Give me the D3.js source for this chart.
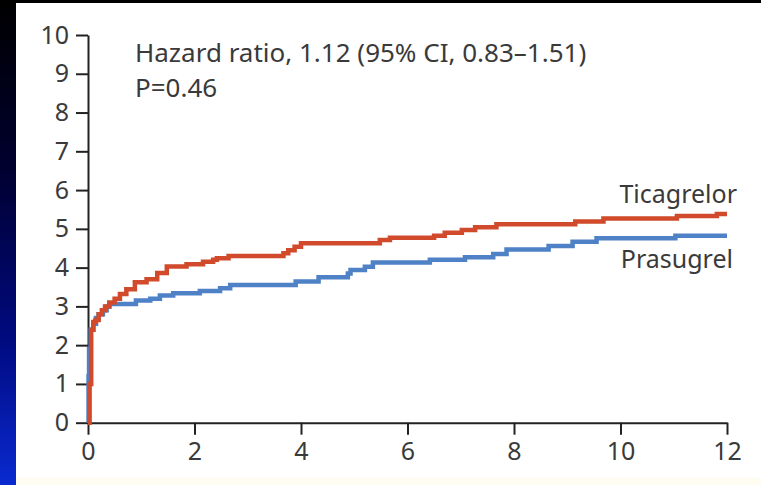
<!DOCTYPE html>
<html>
<head>
<meta charset="utf-8">
<script src="https://cdn.jsdelivr.net/npm/d3@7"></script>
<style>
  body { margin: 0; background: #000; }
  svg { display: block; }
  text { font-family: "Noto Sans", "DejaVu Sans", sans-serif; fill: #3a3a3a; }
</style>
</head>
<body>
<svg id="chart" width="761" height="485"></svg>
<script>
// Cumulative incidence (%), months 0-12.
var ticMonths = [0, 0.03, 0.06, 0.1, 0.14, 0.2, 0.26, 0.32, 0.4, 0.5, 0.6, 0.72, 0.88, 1.1, 1.3, 1.48,
  1.85, 2.16, 2.35, 2.42, 2.64, 3.67, 3.76, 3.88, 4.0, 5.48, 5.67, 6.5, 6.7, 7.02, 7.27, 7.67,
  9.15, 9.68, 11.06, 11.81, 12.0];
var ticValues = [0, 1.0, 2.4, 2.6, 2.65, 2.8, 2.9, 3.0, 3.1, 3.2, 3.32, 3.44, 3.62, 3.7, 3.86, 4.03,
  4.09, 4.15, 4.2, 4.24, 4.3, 4.37, 4.45, 4.54, 4.63, 4.71, 4.77, 4.82, 4.9, 4.97, 5.04, 5.12,
  5.19, 5.27, 5.33, 5.38, 5.38];

var praMonths = [0, 0.01, 0.02, 0.05, 0.1, 0.15, 0.2, 0.28, 0.35, 0.4, 0.9, 1.17, 1.35, 1.6, 2.1,
  2.48, 2.67, 3.9, 4.33, 4.88, 4.93, 5.2, 5.35, 6.42, 7.08, 7.61, 7.86, 8.65, 9.1, 9.55, 11.03, 12.0];
var praValues = [0, 1.2, 1.9, 2.4, 2.55, 2.7, 2.8, 2.9, 3.0, 3.06, 3.15, 3.2, 3.28, 3.34, 3.4,
  3.47, 3.55, 3.64, 3.75, 3.85, 3.94, 4.02, 4.13, 4.2, 4.27, 4.35, 4.47, 4.56, 4.67, 4.76, 4.82, 4.82];

var xTicks = [0, 2, 4, 6, 8, 10, 12];
var yTicks = [0, 1, 2, 3, 4, 5, 6, 7, 8, 9, 10];
var statLines = ["Hazard ratio, 1.12 (95% CI, 0.83\u20131.51)", "P=0.46"];

var svg = d3.select("#chart");

// Slide background: dark gradient strip on the left, white panel.
var defs = svg.append("defs");
var grad = defs.append("linearGradient").attr("id", "side")
  .attr("x1", 0).attr("y1", 0).attr("x2", 0).attr("y2", 1);
grad.append("stop").attr("offset", "0").attr("stop-color", "#000000");
grad.append("stop").attr("offset", "0.35").attr("stop-color", "#000030");
grad.append("stop").attr("offset", "0.7").attr("stop-color", "#000a80");
grad.append("stop").attr("offset", "1").attr("stop-color", "#0a2ad0");
svg.append("rect").attr("width", 761).attr("height", 485).attr("fill", "url(#side)");
svg.append("rect").attr("width", 761).attr("height", 3).attr("fill", "#000");
svg.append("rect").attr("x", 16).attr("y", 3).attr("width", 745).attr("height", 482).attr("fill", "#fff");
svg.append("rect").attr("x", 16).attr("y", 478).attr("width", 745).attr("height", 7).attr("fill", "#fffcf2");

var x = d3.scaleLinear().domain([0, 12]).range([88, 727]);
var y = d3.scaleLinear().domain([0, 10]).range([422.7, 35]);

// Axes
var yAxis = svg.append("g")
  .attr("transform", "translate(" + x(0) + ",0)")
  .call(d3.axisLeft(y).tickValues(yTicks).tickSize(12).tickSizeOuter(0).tickPadding(7));
var xAxis = svg.append("g")
  .attr("transform", "translate(0," + y(0) + ")")
  .call(d3.axisBottom(x).tickValues(xTicks).tickSize(12).tickSizeOuter(0).tickPadding(8));

[yAxis, xAxis].forEach(function(g) {
  g.selectAll("path, line").attr("stroke", "#222").attr("stroke-width", 2);
  g.selectAll("text").attr("font-size", 25).attr("fill", "#3a3a3a")
    .style("font-family", "\"Noto Sans\", sans-serif");
});

// Step curves
var line = d3.line()
  .x(function(d) { return x(d[0]); })
  .y(function(d) { return y(d[1]); })
  .curve(d3.curveStepAfter);

var praData = d3.zip(praMonths, praValues);
var ticData = d3.zip(ticMonths, ticValues);

svg.append("path").datum(praData)
  .attr("d", line).attr("fill", "none")
  .attr("stroke", "#4f81c7").attr("stroke-width", 4.5);
svg.append("path").datum(ticData)
  .attr("d", line).attr("fill", "none")
  .attr("stroke", "#d04a2b").attr("stroke-width", 4.5);

// Labels
svg.append("text").attr("x", 737).attr("y", 203).attr("text-anchor", "end")
  .attr("font-size", 25).text("Ticagrelor");
svg.append("text").attr("x", 733).attr("y", 268).attr("text-anchor", "end")
  .attr("font-size", 25).text("Prasugrel");

svg.selectAll(".stat").data(statLines).enter().append("text")
  .attr("class", "stat")
  .attr("x", 135)
  .attr("y", function(d, i) { return 62 + i * 35; })
  .attr("font-size", 26)
  .text(function(d) { return d; });
</script>
</body>
</html>
